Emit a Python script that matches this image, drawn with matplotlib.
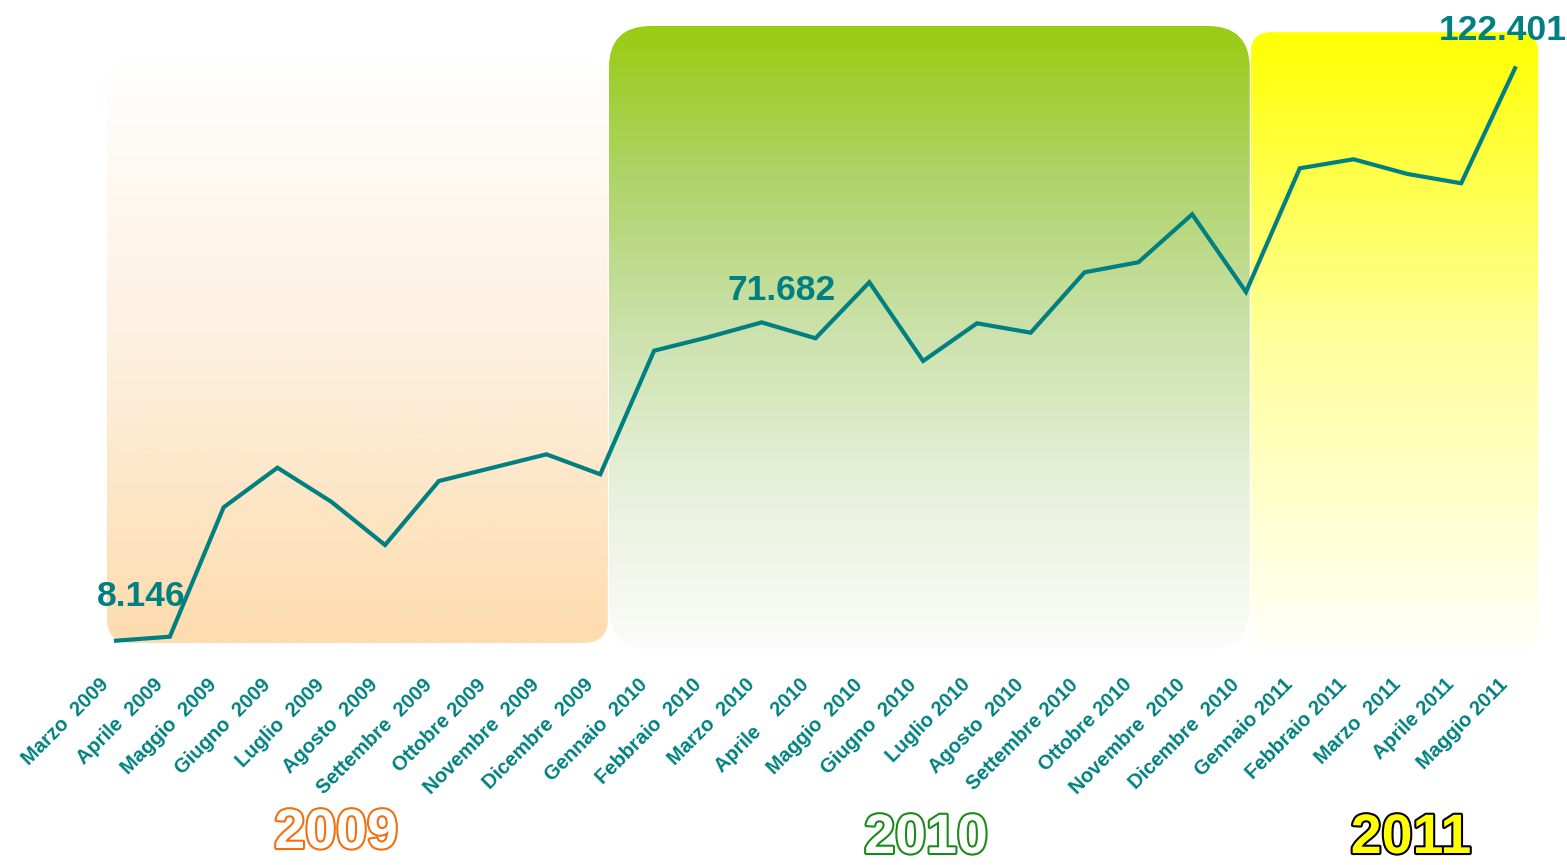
import numpy as np
import matplotlib
matplotlib.use('Agg')
import matplotlib.pyplot as plt
from matplotlib.patches import FancyBboxPatch
from matplotlib.colors import to_rgb
import matplotlib.patheffects as pe
import matplotlib.transforms as mtrans

plt.rcParams['font.family'] = ['Liberation Sans', 'DejaVu Sans']

# ---------------- data ----------------
months = ["Marzo  2009", "Aprile  2009", "Maggio  2009", "Giugno  2009", "Luglio  2009",
          "Agosto  2009", "Settembre  2009", "Ottobre 2009", "Novembre  2009", "Dicembre  2009",
          "Gennaio  2010", "Febbraio  2010", "Marzo  2010", "Aprile    2010", "Maggio  2010",
          "Giugno  2010", "Luglio 2010", "Agosto  2010", "Settembre 2010", "Ottobre 2010",
          "Novembre  2010", "Dicembre  2010", "Gennaio 2011", "Febbraio 2011", "Marzo  2011",
          "Aprile 2011", "Maggio 2011"]
values = [8.146, 8.95, 34.77, 42.68, 35.89, 27.25, 40.02, 42.68, 45.35, 41.36,
          66.03, 68.71, 71.682, 68.51, 79.69, 63.98, 71.50, 69.63, 81.68, 83.68,
          93.26, 77.75, 102.44, 104.24, 101.31, 99.45, 122.401]
label_idx = [0, 12, 26]
label_text = ["8.146", "71.682", "122.401"]
years = ["2009", "2010", "2011"]

# ---------------- figure ----------------
fig = plt.figure(figsize=(15.67, 8.65), dpi=100)
ax = fig.add_axes([0, 0.2312, 1, 0.7688])
ax.set_facecolor('none')
PX_X = 53.81      # pixels per category step
PX_Y = 5.0099     # pixels per value unit
for s in ax.spines.values():
    s.set_visible(False)
ax.set_yticks([])

# background year panels with vertical gradients (stops from top to bottom)
panels = [
    (-0.167, 9.14, 7.7, 124.0, [(0, '#ffffff'), (0.5, '#fdf0de'), (1, '#fddcae')], 24),
    (9.16, 21.07, 6.5, 130.84, [(0, '#99cc11'), (0.25, '#afd46c'), (0.5, '#cde2ae'),
                                (0.75, '#e8f1dc'), (1, '#fcfcfa')], 42),
    (21.09, 26.43, 6.0, 129.6, [(0, '#ffff00'), (0.5, '#ffff9c'), (1, '#fffffa')], 20),
]
for x0, x1, y0, y1, stops, r in panels:
    t = np.linspace(0, 1, 256)
    pos = [p for p, _ in stops]
    cols = np.array([to_rgb(c) for _, c in stops])
    grad = np.stack([np.interp(t, pos, cols[:, k]) for k in range(3)], axis=-1)[:, None, :]
    patch = FancyBboxPatch((x0, y0), x1 - x0, y1 - y0,
                           boxstyle=f"round,pad=0,rounding_size={r / PX_X}",
                           mutation_aspect=PX_X / PX_Y,
                           facecolor='none', edgecolor='none', transform=ax.transData)
    ax.add_patch(patch)
    im = ax.imshow(grad, extent=[x0, x1, y0, y1], aspect='auto', origin='upper',
                   interpolation='bilinear', zorder=1)
    im.set_clip_path(patch)

ax.set_xlim(-2.156, 26.966)
ax.set_ylim(3.296, 136.03)

# line
x = np.arange(len(values))
ax.plot(x, values, color='#008080', lw=3, zorder=3, solid_joinstyle='miter')

# value labels
offsets = [(18, 32), (14, 23), (-9, 27)]
for i, txt, off in zip(label_idx, label_text, offsets):
    ax.annotate(txt, (x[i], values[i]), xytext=off, textcoords='offset points',
                ha='center', va='center', fontsize=25.5, fontweight='bold',
                color='#008080', zorder=4)

# x tick labels
ax.set_xticks(x)
ax.set_xticklabels(months, rotation=45, ha='right', va='center',
                   rotation_mode='anchor', fontsize=14.5, fontweight='bold', color='#008080')
ax.tick_params(axis='x', length=0, pad=12)
shift = mtrans.ScaledTranslation(-7 / 72, 0, fig.dpi_scale_trans)
for lab in ax.get_xticklabels():
    lab.set_transform(lab.get_transform() + shift)

# year captions
year_pos = [(336, 834), (926, 839), (1411, 839)]
year_fill = ['white', 'white', '#ffff00']
year_edge = ['#f07010', '#1a8a1a', '#000000']
for yr, (px, py), fc, ec in zip(years, year_pos, year_fill, year_edge):
    fig.text(px / 1567, 1 - py / 865, yr, ha='center', va='center', fontsize=40,
             fontweight='bold', color=fc,
             path_effects=[pe.withStroke(linewidth=3, foreground=ec)])

fig.savefig('out.png', dpi=100)
